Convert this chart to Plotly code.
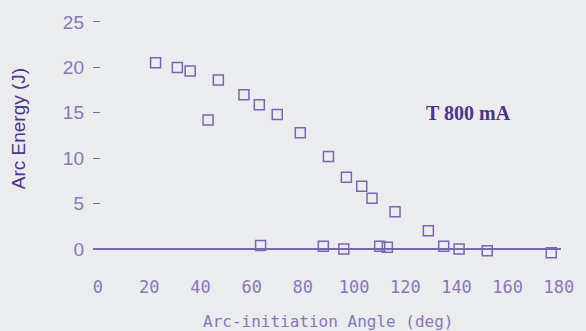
import plotly.graph_objects as go

# Data
angle_deg = [22.5, 31, 36, 43, 47, 57, 63, 70, 79, 90, 97, 103, 107, 116, 129,
             135, 141, 152, 177, 63.5, 88, 96, 110, 113]
arc_energy_j = [20.5, 20.0, 19.6, 14.2, 18.6, 17.0, 15.9, 14.8, 12.8, 10.2, 7.9, 6.9, 5.6, 4.1, 2.0,
                0.3, 0.0, -0.2, -0.4, 0.4, 0.3, 0.0, 0.3, 0.2]
x_ticks = [0, 20, 40, 60, 80, 100, 120, 140, 160, 180]
y_ticks = [0, 5, 10, 15, 20, 25]
label_text = "T 800 mA"

PURPLE = "#7a66b0"
LABEL = "#8877b8"
DARK = "#4e3488"
BG = "#ebecee"

fig = go.Figure()
fig.add_trace(go.Scatter(
    x=angle_deg, y=arc_energy_j, mode="markers",
    marker=dict(symbol="square-open", size=10, color=PURPLE, line=dict(width=1.5, color=PURPLE)),
    showlegend=False,
))

fig.update_layout(
    width=586, height=331,
    margin=dict(l=93, r=21, t=15, b=63),
    paper_bgcolor=BG, plot_bgcolor=BG,
    font=dict(family="Liberation Sans, Arial, sans-serif", color=LABEL),
)
fig.update_xaxes(
    range=[-1.94, 180.8], tickvals=x_ticks, showgrid=False, zeroline=False, showline=False,
    ticks="outside", ticklen=4, tickcolor=BG,
    tickfont=dict(family="DejaVu Sans Mono, monospace", size=17, color=LABEL),
)
fig.update_yaxes(
    range=[-2.09, 25.77], tickvals=y_ticks, showgrid=False, showline=False,
    zeroline=True, zerolinecolor=PURPLE, zerolinewidth=1.5,
    ticks="inside", ticklen=7, tickcolor=PURPLE, tickwidth=1.2,
    ticklabelstandoff=8,
    tickfont=dict(family="Liberation Sans, Arial, sans-serif", size=19, color=LABEL),
)

fig.add_annotation(
    text="Arc Energy (J)", xref="paper", yref="paper", x=-0.16, y=0.549,
    textangle=-90, showarrow=False, xanchor="center", yanchor="middle",
    font=dict(family="Liberation Sans, Arial, sans-serif", size=19, color=DARK),
)
fig.add_annotation(
    text="Arc-initiation Angle (deg)", xref="paper", yref="paper", x=0.503, y=-0.213,
    showarrow=False, xanchor="center", yanchor="middle",
    font=dict(family="DejaVu Sans Mono, monospace", size=16, color=LABEL),
)
fig.add_annotation(
    text="<b>" + label_text + "</b>", x=144.8, y=15.0, showarrow=False,
    xanchor="center", yanchor="middle",
    font=dict(family="Liberation Serif, Times New Roman, serif", size=20, color=DARK),
)

fig.write_html("out.html")
